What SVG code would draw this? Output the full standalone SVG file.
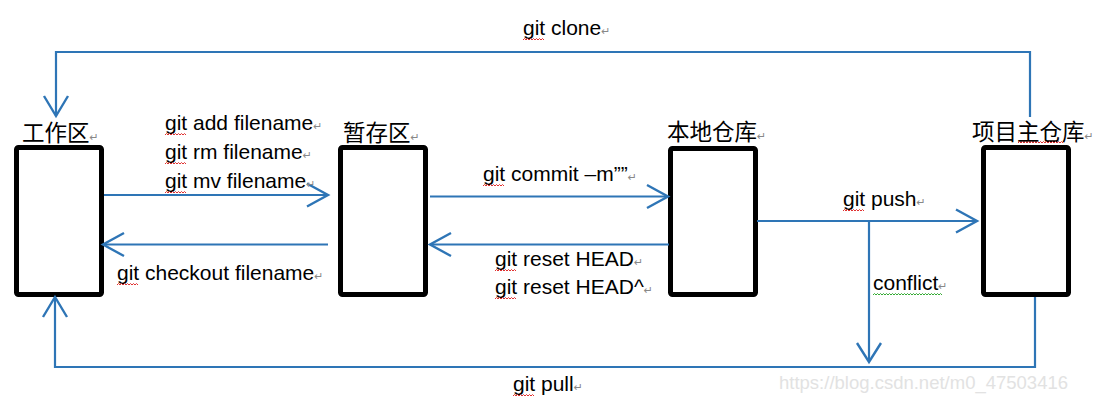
<svg xmlns="http://www.w3.org/2000/svg" width="1105" height="411" viewBox="0 0 1105 411">
<style>
.box{fill:#fff;stroke:#000;stroke-width:5;stroke-linejoin:round}
.cn{font-family:"Noto Sans CJK SC","Noto Sans",sans-serif;font-size:22.5px;fill:#000}
.lb{font-family:"Liberation Sans",Arial,sans-serif;font-size:21px;fill:#000}
.rt{font-family:"DejaVu Sans",sans-serif;font-size:11px;fill:#888}
.ln{fill:none;stroke:#2e75b6;stroke-width:2.2}
.ah{fill:none;stroke:#2e75b6;stroke-width:2.4;stroke-linejoin:miter}
.wm{font-family:"Liberation Sans",Arial,sans-serif;font-size:18.5px;fill:#e2e2e2}
.sqr{fill:none;stroke:#e03030;stroke-width:1}
.sqg{fill:none;stroke:#3a3;stroke-width:1}
</style>
<defs>
<path id="sq21" d="M0 0 l1.5 -1.5 l1.5 1.5 l1.5 -1.5 l1.5 1.5 l1.5 -1.5 l1.5 1.5 l1.5 -1.5 l1.5 1.5 l1.5 -1.5 l1.5 1.5 l1.5 -1.5 l1.5 1.5 l1.5 -1.5 l1.5 1.5"/>
<path id="sq45" d="M0 0 l1.5 -1.5 l1.5 1.5 l1.5 -1.5 l1.5 1.5 l1.5 -1.5 l1.5 1.5 l1.5 -1.5 l1.5 1.5 l1.5 -1.5 l1.5 1.5 l1.5 -1.5 l1.5 1.5 l1.5 -1.5 l1.5 1.5 l1.5 -1.5 l1.5 1.5 l1.5 -1.5 l1.5 1.5 l1.5 -1.5 l1.5 1.5 l1.5 -1.5 l1.5 1.5 l1.5 -1.5 l1.5 1.5 l1.5 -1.5 l1.5 1.5 l1.5 -1.5 l1.5 1.5 l1.5 -1.5 l1.5 1.5"/>
<path id="sq70" d="M0 0 l1.5 -1.5 l1.5 1.5 l1.5 -1.5 l1.5 1.5 l1.5 -1.5 l1.5 1.5 l1.5 -1.5 l1.5 1.5 l1.5 -1.5 l1.5 1.5 l1.5 -1.5 l1.5 1.5 l1.5 -1.5 l1.5 1.5 l1.5 -1.5 l1.5 1.5 l1.5 -1.5 l1.5 1.5 l1.5 -1.5 l1.5 1.5 l1.5 -1.5 l1.5 1.5 l1.5 -1.5 l1.5 1.5 l1.5 -1.5 l1.5 1.5 l1.5 -1.5 l1.5 1.5 l1.5 -1.5 l1.5 1.5 l1.5 -1.5 l1.5 1.5 l1.5 -1.5 l1.5 1.5 l1.5 -1.5 l1.5 1.5 l1.5 -1.5 l1.5 1.5 l1.5 -1.5 l1.5 1.5 l1.5 -1.5 l1.5 1.5 l1.5 -1.5 l1.5 1.5 l1.5 -1.5 l1.5 1.5"/>
</defs>
<rect width="1105" height="411" fill="#fff"/>

<g id="node-workspace">
<rect class="box" x="16.5" y="147.5" width="85" height="147" rx="2"/>
<text class="cn" x="22" y="141">工作区<tspan class="rt">↵</tspan></text>
</g>
<g id="node-staging">
<rect class="box" x="340.5" y="147.5" width="85" height="147" rx="2"/>
<text class="cn" x="343" y="141">暂存区<tspan class="rt">↵</tspan></text>
</g>
<g id="node-local">
<rect class="box" x="670.5" y="148.5" width="85" height="146" rx="2"/>
<text class="cn" x="667" y="140">本地仓库<tspan class="rt">↵</tspan></text>
</g>
<g id="node-remote">
<rect class="box" x="983.5" y="147.5" width="85" height="147" rx="2"/>
<text class="cn" x="972" y="140">项目主仓库<tspan class="rt">↵</tspan></text>
<use href="#sq45" x="1018" y="143" class="sqr"/>
</g>

<g id="connectors">
<path class="ln" d="M1030 117 V52 H56 V116"/>
<path class="ah" d="M44 96 L56 116 L68 96"/>
<path class="ln" d="M104 195 H327"/>
<path class="ah" d="M307 183.5 L328 195 L307 206.5"/>
<path class="ln" d="M328 244.5 H104"/>
<path class="ah" d="M124 233 L103 244.5 L124 256"/>
<path class="ln" d="M430 196.5 H667"/>
<path class="ah" d="M647 185 L668 196.5 L647 208"/>
<path class="ln" d="M669 244.5 H431"/>
<path class="ah" d="M451 233 L430 244.5 L451 256"/>
<path class="ln" d="M757 221 H976"/>
<path class="ah" d="M956 209.5 L977 221 L956 232.5"/>
<path class="ln" d="M869 221 V361"/>
<path class="ah" d="M857 343 L869 362 L881 343"/>
<path class="ln" d="M1035 297 V367 H55 V298"/>
<path class="ah" d="M43 317 L55 297 L67 317"/>
</g>

<g id="labels">
<text class="lb" x="165" y="130">git add filename<tspan class="rt">↵</tspan></text>
<text class="lb" x="165" y="159">git rm filename<tspan class="rt">↵</tspan></text>
<text class="lb" x="165" y="188">git mv filename<tspan class="rt">↵</tspan></text>
<text class="lb" x="117" y="280">git checkout filename<tspan class="rt">↵</tspan></text>
<text class="lb" x="483" y="181">git commit –m””<tspan class="rt">↵</tspan></text>
<text class="lb" x="495" y="266">git reset HEAD<tspan class="rt">↵</tspan></text>
<text class="lb" x="495" y="294">git reset HEAD^<tspan class="rt">↵</tspan></text>
<text class="lb" x="843" y="206">git push<tspan class="rt">↵</tspan></text>
<text class="lb" x="873" y="290">conflict<tspan class="rt">↵</tspan></text>
<text class="lb" x="523" y="35">git clone<tspan class="rt">↵</tspan></text>
<text class="lb" x="513" y="391">git pull<tspan class="rt">↵</tspan></text>
<g class="sqr">
<use href="#sq21" x="165" y="135"/>
<use href="#sq21" x="165" y="164"/>
<use href="#sq21" x="165" y="193"/>
<use href="#sq21" x="117" y="285"/>
<use href="#sq21" x="483" y="186"/>
<use href="#sq21" x="495" y="271"/>
<use href="#sq21" x="495" y="299"/>
<use href="#sq21" x="843" y="211"/>
<use href="#sq21" x="523" y="40"/>
<use href="#sq21" x="513" y="396"/>
</g>
<use href="#sq70" x="873" y="295" class="sqg"/>
<text class="wm" x="779" y="389">https://blog.csdn.net/m0_47503416</text>
</g>
</svg>
